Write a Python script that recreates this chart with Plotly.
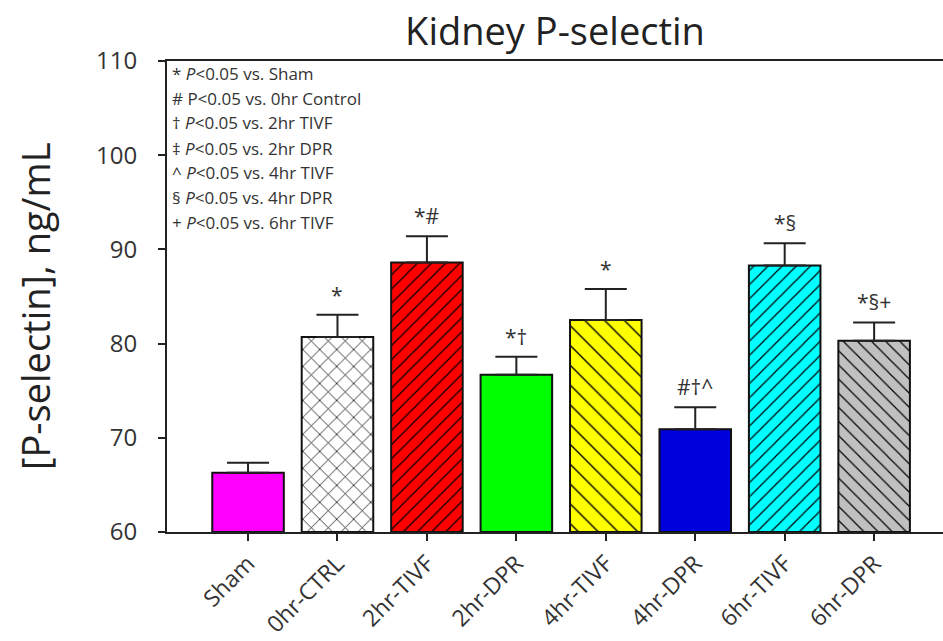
import plotly.graph_objects as go

# Group labels and measured P-selectin (mean and SEM, ng/mL)
groups = ["Sham", "0hr-CTRL", "2hr-TIVF", "2hr-DPR", "4hr-TIVF", "4hr-DPR", "6hr-TIVF", "6hr-DPR"]
means = [66.3, 80.7, 88.6, 76.7, 82.5, 70.9, 88.3, 80.3]
sems = [1.05, 2.35, 2.8, 1.9, 3.3, 2.35, 2.35, 1.95]
sig_marks = ["", "*", "*#", "*\u2020", "*", "#\u2020^", "*\u00a7", "*\u00a7+"]

# Fill styles per group
fill_colors = ["#FF00FF", "#FFFFFF", "#FF0000", "#00FF00", "#FFFF00", "#0000DD", "#00FFFF", "#C0C0C0"]
hatch_shapes = ["", "x", "/", "", "\\", "", "/", "\\"]
hatch_sizes = [10, 12, 10, 10, 14, 10, 10, 10]
hatch_solidity = [0.1, 0.12, 0.12, 0.1, 0.1, 0.1, 0.12, 0.12]

# Significance key shown in the upper-left corner
key_lines = [
    "* <i>P</i>&lt;0.05 vs. Sham",
    "# P&lt;0.05 vs. 0hr Control",
    "\u2020 <i>P</i>&lt;0.05 vs. 2hr TIVF",
    "\u2021 <i>P</i>&lt;0.05 vs. 2hr DPR",
    "^ <i>P</i>&lt;0.05 vs. 4hr TIVF",
    "\u00a7 <i>P</i>&lt;0.05 vs. 4hr DPR",
    "+ <i>P</i>&lt;0.05 vs. 6hr TIVF",
]

FONT = "Open Sans"
INK = "#222222"
TXT = "#333333"

W, H = 943, 641
L, R, T, B = 167, 0, 61, 109
PW, PH = W - L - R, H - T - B


def px_x(x):
    return (x - L) / PW


def px_y(y):
    return 1 - (y - T) / PH


fig = go.Figure()

# One trace per group so each bar keeps its own fill and hatch colours
for g, m, s, col, shp, sz, sol in zip(groups, means, sems, fill_colors,
                                      hatch_shapes, hatch_sizes, hatch_solidity):
    pattern = dict(shape=shp)
    if shp:
        pattern = dict(shape=shp, size=sz, solidity=sol, fillmode="overlay",
                       bgcolor=col, fgcolor="#000000", fgopacity=1)
    fig.add_trace(go.Bar(
        x=[g],
        y=[m - 60],
        base=60,
        width=0.8,
        marker=dict(color=col, line=dict(color="#111111", width=2), pattern=pattern),
        error_y=dict(
            type="data", symmetric=False,
            array=[s], arrayminus=[0],
            color=INK, thickness=2, width=21,
        ),
        showlegend=False,
        name=g,
    ))

# Significance symbols above each error bar
for g, m, s, txt in zip(groups, means, sems, sig_marks):
    if txt:
        fig.add_annotation(
            x=g, y=m + s, xref="x", yref="y",
            text=txt, showarrow=False,
            yanchor="bottom", yshift=4,
            font=dict(family=FONT, size=21, color=TXT),
        )

# Key text, one line per annotation
for i, line in enumerate(key_lines):
    fig.add_annotation(
        x=px_x(170), y=px_y(73 + 25 * i),
        xref="paper", yref="paper",
        text=line, showarrow=False,
        xanchor="left", yanchor="middle",
        font=dict(family=FONT, size=17, color=TXT),
    )

# Vertical axis title
fig.add_annotation(
    x=px_x(35), y=px_y(306), xref="paper", yref="paper",
    text="[P-selectin], ng/mL", showarrow=False, textangle=-90,
    xanchor="center", yanchor="middle",
    font=dict(family=FONT, size=38, color=INK),
)

fig.update_layout(
    width=W, height=H,
    margin=dict(l=L, r=R, t=T, b=B, autoexpand=False),
    paper_bgcolor="white", plot_bgcolor="white",
    title=dict(
        text="Kidney P-selectin",
        x=0.5, xref="paper",
        y=1 - 32 / H, yref="container", yanchor="middle",
        font=dict(family=FONT, size=38, color=INK),
    ),
    font=dict(family=FONT, color=TXT),
    barmode="overlay",
)

fig.update_xaxes(
    categoryorder="array", categoryarray=groups,
    range=[-0.906, 7.77],
    automargin=False,
    showline=True, linecolor=INK, linewidth=2, mirror=True,
    ticks="outside", ticklen=7, tickwidth=2, tickcolor=INK,
    tickangle=-45,
    tickfont=dict(family=FONT, size=23, color=TXT),
    showgrid=False, zeroline=False,
)
fig.update_yaxes(
    range=[60, 110],
    automargin=False,
    tickvals=[60, 70, 80, 90, 100, 110],
    showline=True, linecolor=INK, linewidth=2,
    ticks="outside", ticklen=7, tickwidth=2, tickcolor=INK,
    ticklabelstandoff=16,
    tickfont=dict(family=FONT, size=24, color=TXT),
    showgrid=False, zeroline=False,
)

fig.write_html("out.html")
